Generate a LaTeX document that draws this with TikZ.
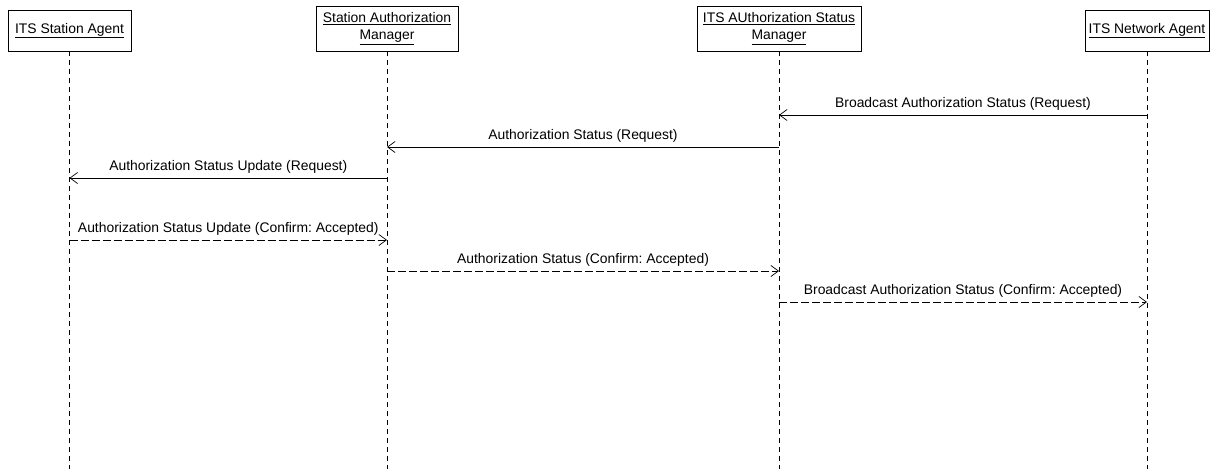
\documentclass[tikz,border=0pt]{standalone}
\usepackage{fontspec}
\setmainfont{Liberation Sans}
\usetikzlibrary{arrows.meta}
\frenchspacing

\tikzset{
  actor/.style={draw, line width=0.8pt, align=center, inner sep=2pt,
    font=\fontsize{13.9}{17}\selectfont},
  lifeline/.style={line width=0.6pt, dash pattern=on 5pt off 4pt},
  msg/.style={line width=0.7pt, -{Straight Barb[length=7.5pt,width=11pt,line width=0.7pt]}},
  reply/.style={msg, dash pattern=on 8pt off 3pt},
  lbl/.style={font=\fontsize{13.9}{15.5}\selectfont, inner sep=2pt, above, yshift=2.5pt}
}

\begin{document}
\begin{tikzpicture}[x=1pt, y=-1pt]
\useasboundingbox (0,0) rectangle (1211,469);

% participants
\node[actor, minimum width=123pt, minimum height=41pt] (sa)  at (69.5,30.5)
  {\underline{ITS Station Agent}};
\node[actor, minimum width=142pt, minimum height=45pt] (sam) at (387,28.5)
  {\underline{Station Authorization}\\\underline{Manager}};
\node[actor, minimum width=164pt, minimum height=45pt] (asm) at (779,28.5)
  {\underline{ITS AUthorization Status}\\\underline{Manager}};
\node[actor, minimum width=124pt, minimum height=41pt] (na)  at (1147,30.5)
  {\underline{ITS Network Agent}};

% lifeline ends
\coordinate (bottom) at (0,469);
\draw[lifeline] (sa.south)  -- (sa.south |- bottom);
\draw[lifeline] (sam.south) -- (sam.south |- bottom);
\draw[lifeline] (asm.south) -- (asm.south |- bottom);
\draw[lifeline] (na.south)  -- (na.south |- bottom);

% message rows
\coordinate (r1) at (0,115);
\coordinate (r2) at (0,147);
\coordinate (r3) at (0,178);
\coordinate (r4) at (0,240);
\coordinate (r5) at (0,271);
\coordinate (r6) at (0,302);

% requests
\draw[msg] (na.south |- r1) -- node[lbl] {Broadcast Authorization Status (Request)} (asm.south |- r1);
\draw[msg] (asm.south |- r2) -- node[lbl] {Authorization Status (Request)} (sam.south |- r2);
\draw[msg] (sam.south |- r3) -- node[lbl] {Authorization Status Update (Request)} (sa.south |- r3);

% confirmations
\draw[reply] (sa.south |- r4) -- node[lbl] {Authorization Status Update (Confirm: Accepted)} (sam.south |- r4);
\draw[reply] (sam.south |- r5) -- node[lbl] {Authorization Status (Confirm: Accepted)} (asm.south |- r5);
\draw[reply] (asm.south |- r6) -- node[lbl] {Broadcast Authorization Status (Confirm: Accepted)} (na.south |- r6);
\end{tikzpicture}
\end{document}
